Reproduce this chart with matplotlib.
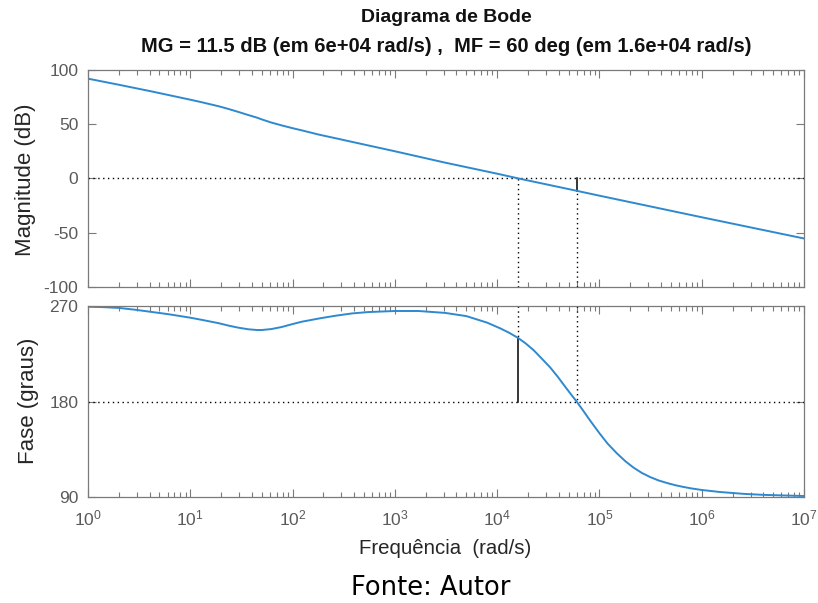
import matplotlib
matplotlib.use("Agg")
import matplotlib.pyplot as plt
from matplotlib.ticker import LogLocator, FixedLocator, NullFormatter

plt.rcParams['font.family'] = ['Liberation Sans', 'DejaVu Sans']
plt.rcParams['mathtext.fontset'] = 'custom'
plt.rcParams['mathtext.rm'] = 'Liberation Sans'
plt.rcParams['mathtext.it'] = 'Liberation Sans:italic'
plt.rcParams['axes.unicode_minus'] = False

# Open-loop frequency response (rad/s)
freq_mag = [1, 2, 4.2, 10, 13, 19, 23.5, 29.5, 37, 45, 50, 62, 78, 100, 123,
            180, 261, 380, 1e3, 3.1e3, 1e4, 1.6e4, 6e4, 1e5, 1e6, 1e7]
mag_db = [92.0, 86.4, 80.2, 72.6, 70.2, 66.5, 64.1, 61.3, 58.4, 56.0, 54.4,
          51.5, 48.9, 46.3, 44.3, 40.4, 37.1, 33.7, 25.0, 14.5, 4.3, 0.0,
          -11.5, -16.0, -35.9, -55.5]

freq_ph = [1, 1.36, 2, 2.88, 4.2, 6.1, 10, 12.9, 19, 23.5, 29.5, 36.9, 45,
           49.9, 62, 78, 100, 123, 180, 261, 380, 551, 1e3, 1.7e3, 3.1e3,
           5e3, 8e3, 1.07e4, 1.3e4, 1.6e4, 1.9e4, 2.27e4, 2.7e4, 3.3e4,
           3.9e4, 4.8e4, 5.4e4, 6e4, 7e4, 8.07e4, 9e4, 1e5, 1.2e5, 1.48e5,
           1.8e5, 2.15e5, 2.6e5, 3.14e5, 3.8e5, 4.6e5, 5.5e5, 6.66e5, 8e5,
           1e6, 1.5e6, 2.6e6, 4e6, 1e7]
phase_deg = [269.3, 269.0, 268.2, 266.5, 264.4, 262.3, 259.0, 257.0, 253.8,
             251.6, 249.6, 248.1, 247.4, 247.4, 248.3, 250.2, 253.0, 255.2,
             258.2, 260.8, 263.0, 264.3, 265.3, 265.3, 263.5, 260.5, 254.3,
             249.0, 245.0, 240.0, 234.8, 228.5, 221.0, 212.2, 203.6, 192.0,
             185.6, 180.0, 171.0, 162.5, 156.3, 150.3, 140.6, 131.4, 123.8,
             118.0, 112.9, 109.0, 105.8, 103.4, 101.4, 99.7, 98.3, 96.9,
             95.0, 93.2, 92.3, 91.2]

# Stability margins
gain_margin_db = 11.5
w_gain_cross = 6e4     # phase crosses 180 deg
phase_margin = 60
w_phase_cross = 1.6e4  # magnitude crosses 0 dB

mag_yticks = [-100, -50, 0, 50, 100]
phase_yticks = [90, 180, 270]
x_decades = list(range(0, 8))

line_color = '#2e89cf'
tick_color = '#5a5a5a'
spine_color = '#7a7a7a'
dots = (0, (1, 2.5))

W, H = 818, 603
fig = plt.figure(figsize=(W / 100, H / 100), dpi=100)

left, right = 88, 804
ax1 = fig.add_axes([left / W, 1 - 286.7 / H, (right - left) / W, (286.7 - 70) / H])
ax2 = fig.add_axes([left / W, 1 - 497.3 / H, (right - left) / W, (497.3 - 306) / H])


def style_axis(ax, yticks):
    ax.set_xscale('log')
    ax.set_xlim(1, 1e7)
    ax.xaxis.set_major_locator(LogLocator(base=10, numticks=20))
    ax.xaxis.set_minor_locator(LogLocator(base=10, subs=range(2, 10), numticks=100))
    ax.xaxis.set_minor_formatter(NullFormatter())
    ax.yaxis.set_major_locator(FixedLocator(yticks))
    ax.tick_params(which='both', direction='in', top=True, right=True,
                   colors=spine_color, labelcolor=tick_color, labelsize=12.5,
                   width=0.8)
    ax.tick_params(which='major', length=6, pad=7)
    ax.tick_params(which='minor', length=3.5)
    for s in ax.spines.values():
        s.set_color(spine_color)
        s.set_linewidth(0.9)


# Magnitude panel
style_axis(ax1, mag_yticks)
ax1.set_ylim(-100, 100)
ax1.set_yticklabels([str(v) for v in mag_yticks])
ax1.set_xticklabels([])
ax1.axhline(0, color='black', linestyle=dots, linewidth=1.0)
mag_at_gc = mag_db[freq_mag.index(w_gain_cross)]
ax1.plot([w_phase_cross, w_phase_cross], [-100, 0], color='black',
         linestyle=dots, linewidth=1.0)
ax1.plot([w_gain_cross, w_gain_cross], [-100, mag_at_gc], color='black',
         linestyle=dots, linewidth=1.0)
ax1.plot([w_gain_cross, w_gain_cross], [0, -gain_margin_db], color='black',
         linewidth=1.1)
ax1.plot(freq_mag, mag_db, color=line_color, linewidth=1.4,
         solid_joinstyle='round')

# Phase panel
style_axis(ax2, phase_yticks)
ax2.set_ylim(90, 270)
ax2.set_yticklabels([str(v) for v in phase_yticks])
ax2.set_xticks([10.0 ** d for d in x_decades])
ax2.set_xticklabels([r'$\mathregular{10^{%d}}$' % d for d in x_decades])
ax2.tick_params(axis='x', which='major', pad=8)
ax2.axhline(180, color='black', linestyle=dots, linewidth=1.0)
ax2.plot([w_phase_cross, w_phase_cross], [270, 180 + phase_margin], color='black',
         linestyle=dots, linewidth=1.0)
ax2.plot([w_gain_cross, w_gain_cross], [270, 180], color='black',
         linestyle=dots, linewidth=1.0)
ax2.plot([w_phase_cross, w_phase_cross], [180, 180 + phase_margin], color='black',
         linewidth=1.1)
ax2.plot(freq_ph, phase_deg, color=line_color, linewidth=1.4,
         solid_joinstyle='round')

# Titles and labels
cx = (left + right) / 2 / W
fig.text(cx, 1 - 18 / H, 'Diagrama de Bode', ha='center', va='center',
         fontsize=14, fontweight='bold', color='#111111')
fig.text(cx, 1 - 46 / H,
         'MG = %.1f dB (em 6e+04 rad/s) ,  MF = %d deg (em 1.6e+04 rad/s)'
         % (gain_margin_db, phase_margin),
         ha='center', va='center', fontsize=14.5, fontweight='bold', color='#111111')
fig.text(26 / W, 1 - 180 / H, 'Magnitude (dB)', rotation=90, ha='center',
         va='center', fontsize=16, color='#262626')
fig.text(29 / W, 1 - 401 / H, 'Fase (graus)', rotation=90, ha='center',
         va='center', fontsize=16, color='#262626')
fig.text(445 / W, 1 - 549 / H, 'Frequência  (rad/s)', ha='center', va='center',
         fontsize=14.7, color='#262626')
fig.text(431 / W, 1 - 588 / H, 'Fonte: Autor', ha='center', va='center',
         fontsize=18.5, color='black', family='DejaVu Sans')

fig.savefig('out.png', dpi=100)
